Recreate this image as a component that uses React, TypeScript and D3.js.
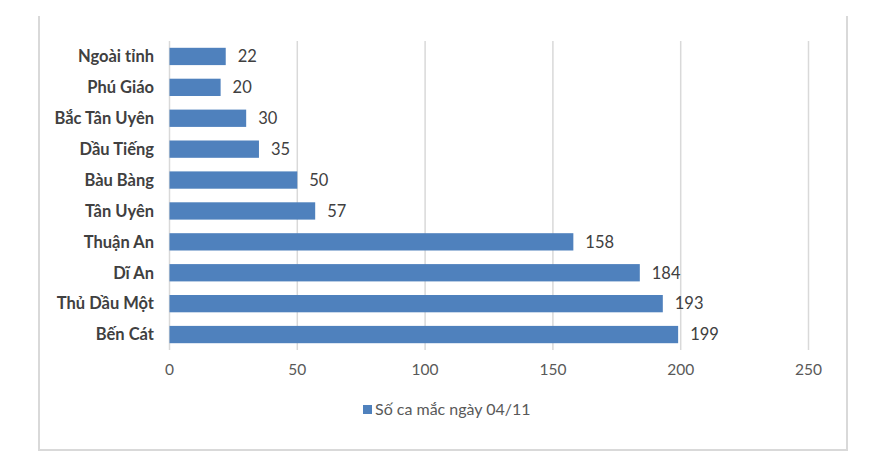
import React from 'react'
import * as d3 from 'd3'

const categories = [
  'Ngoài tỉnh',
  'Phú Giáo',
  'Bắc Tân Uyên',
  'Dầu Tiếng',
  'Bàu Bàng',
  'Tân Uyên',
  'Thuận An',
  'Dĩ An',
  'Thủ Dầu Một',
  'Bến Cát'
]
const cases = [22, 20, 30, 35, 50, 57, 158, 184, 193, 199]
const xTicks = [0, 50, 100, 150, 200, 250]
const seriesName = 'Số ca mắc ngày 04/11'

const width = 886,
  height = 474,
  font = 'Lato, "Open Sans", sans-serif',
  barColor = '#4f81bd',
  textColor = '#404040'

export default function App() {
  const x = d3.scaleLinear().domain([0, 250]).range([169.5, 808.5])
  const y = d3
    .scaleBand()
    .domain(categories)
    .range([41, 350])
    .paddingInner(0.44)
    .paddingOuter(0.22)

  return (
    <svg
      width={width}
      height={height}
      style={{ position: 'absolute', left: 0, top: 0, background: '#fff' }}
      fontFamily={font}>
      {/* frame, top edge is cut off */}
      <path
        d='M39,16 V450 H847 V16'
        fill='none'
        stroke='#d9d9d9'
        strokeWidth={2}
      />

      {xTicks.map(t => (
        <line
          key={t}
          x1={x(t)}
          x2={x(t)}
          y1={41}
          y2={350}
          stroke='#d9d9d9'
          strokeWidth={1.5}
        />
      ))}

      {categories.map((c, i) => (
        <g key={c}>
          <rect
            x={x(0)}
            y={y(c)}
            width={x(cases[i]) - x(0)}
            height={y.bandwidth()}
            fill={barColor}
          />
          <text
            x={x(cases[i]) + 12}
            y={y(c)! + y.bandwidth() / 2}
            dy='.35em'
            fontSize={16.5}
            fill={textColor}>
            {cases[i]}
          </text>
          <text
            x={154}
            y={y(c)! + y.bandwidth() / 2}
            dy='.35em'
            textAnchor='end'
            fontSize={16.5}
            fontWeight='bold'
            fill={textColor}>
            {c}
          </text>
        </g>
      ))}

      {xTicks.map(t => (
        <text
          key={t}
          x={x(t)}
          y={370}
          dy='.35em'
          textAnchor='middle'
          fontSize={15.5}
          fill='#595959'>
          {t}
        </text>
      ))}

      <g transform='translate(363,405)'>
        <rect x={0} y={0} width={9} height={9} fill={barColor} />
        <text x={12} y={4.5} dy='.35em' fontSize={16} fill='#595959'>
          {seriesName}
        </text>
      </g>
    </svg>
  )
}
